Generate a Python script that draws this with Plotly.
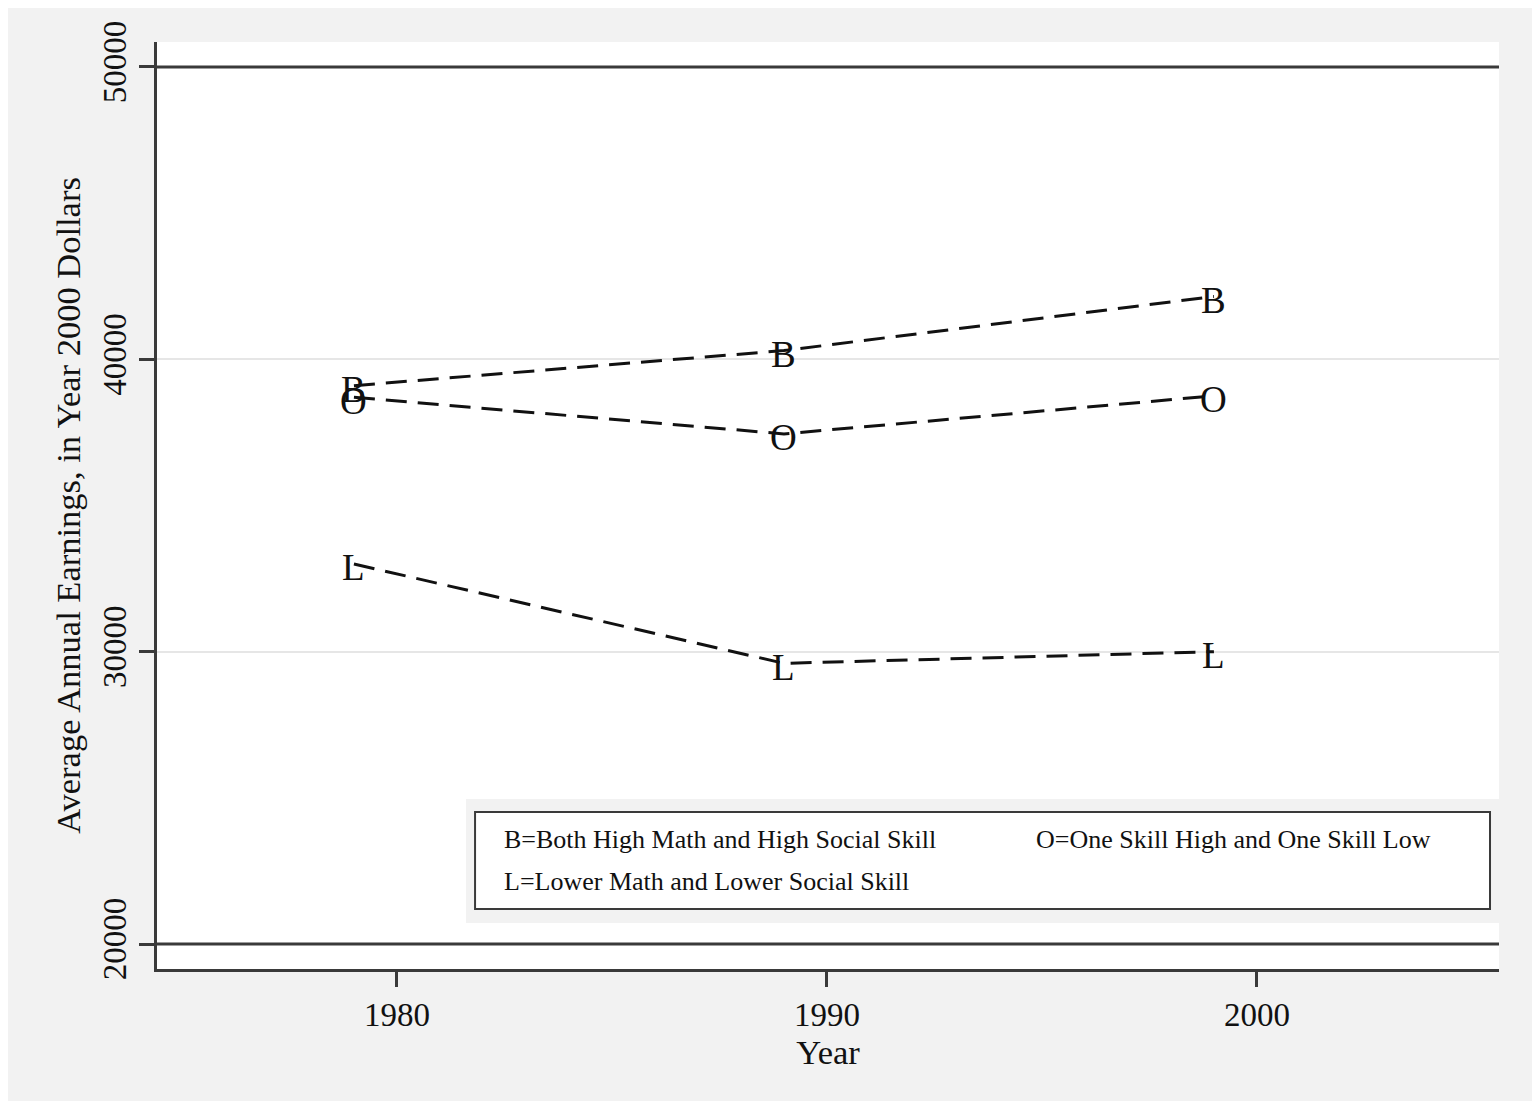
import plotly.graph_objects as go

# ---- data ----
years = [1979, 1989, 1999]
both_high = [39100, 40300, 42150]
one_high = [38700, 37450, 38750]
lower = [33000, 29600, 30000]
series_names = ["B", "O", "L"]
legend_labels = [
    "B=Both High Math and High Social Skill",
    "O=One Skill High and One Skill Low",
    "L=Lower Math and Lower Social Skill",
]
x_ticks = [1980, 1990, 2000]
y_ticks = [20000, 30000, 40000, 50000]

FONT = "Liberation Serif, Times New Roman, serif"
AX = "#3a3a3a"

fig = go.Figure()
annotations = []
for name, vals in zip(series_names, [both_high, one_high, lower]):
    fig.add_trace(go.Scatter(
        x=years, y=vals, mode="lines", name=name, showlegend=False,
        line=dict(color="#111111", width=3, dash="21px,11px"),
    ))
    for xv, yv in zip(years, vals):
        annotations.append(dict(
            x=xv, y=yv, xref="x", yref="y", text=name, showarrow=False,
            xanchor="center", yanchor="middle", yshift=-4,
            font=dict(family=FONT, size=37, color="#111111"),
        ))

# legend-like box
leg_pos = [(0.2573, 0.1402), (0.6537, 0.1402), (0.2573, 0.0949)]
for lab, (lx, ly) in zip(legend_labels, leg_pos):
    annotations.append(dict(
        x=lx, y=ly, xref="paper", yref="paper", text=lab, showarrow=False,
        xanchor="left", yanchor="middle",
        font=dict(family=FONT, size=26, color="#111111"),
    ))

shapes = [
    # legend gray region
    dict(type="rect", xref="paper", yref="paper", x0=0.2303, x1=1.0,
         y0=0.0496, y1=0.1834, fillcolor="#f2f2f2", line=dict(width=0),
         layer="above"),
    # legend white box
    dict(type="rect", xref="paper", yref="paper", x0=0.2370, x1=0.9933,
         y0=0.0647, y1=0.1694, fillcolor="white",
         line=dict(color=AX, width=2), layer="above"),
]
# dark reference lines at extreme ticks
for yv in (y_ticks[0], y_ticks[-1]):
    shapes.append(dict(type="line", xref="paper", yref="y", x0=0, x1=1,
                       y0=yv, y1=yv, line=dict(color=AX, width=3),
                       layer="above"))

fig.update_layout(
    width=1532, height=1093,
    margin=dict(l=149, r=41, t=34, b=132),
    paper_bgcolor="#f2f2f2", plot_bgcolor="white",
    font=dict(family=FONT, color="#111111"),
    annotations=annotations, shapes=shapes,
    showlegend=False,
)
fig.update_xaxes(
    range=[1974.42, 2005.63], tickvals=x_ticks, ticktext=[str(t) for t in x_ticks],
    showgrid=False, zeroline=False,
    showline=True, linecolor=AX, linewidth=2.5,
    ticks="outside", ticklen=15, tickwidth=2.5, tickcolor=AX,
    tickfont=dict(family=FONT, size=33, color="#111111"),
    title=dict(text="Year", font=dict(family=FONT, size=34.5, color="#111111"), standoff=8),
)
fig.update_yaxes(
    range=[19145, 50855], tickvals=y_ticks, ticktext=[str(t) for t in y_ticks],
    showgrid=True, gridcolor="#e6e6e6", gridwidth=2, zeroline=False,
    showline=True, linecolor=AX, linewidth=2.5,
    ticks="outside", ticklen=15, tickwidth=2.5, tickcolor=AX, tickangle=-90,
    tickfont=dict(family=FONT, size=33, color="#111111"),
    title=dict(text="Average Annual Earnings, in Year 2000 Dollars",
               font=dict(family=FONT, size=34.5, color="#111111"), standoff=6),
)

fig.write_html("out.html")
